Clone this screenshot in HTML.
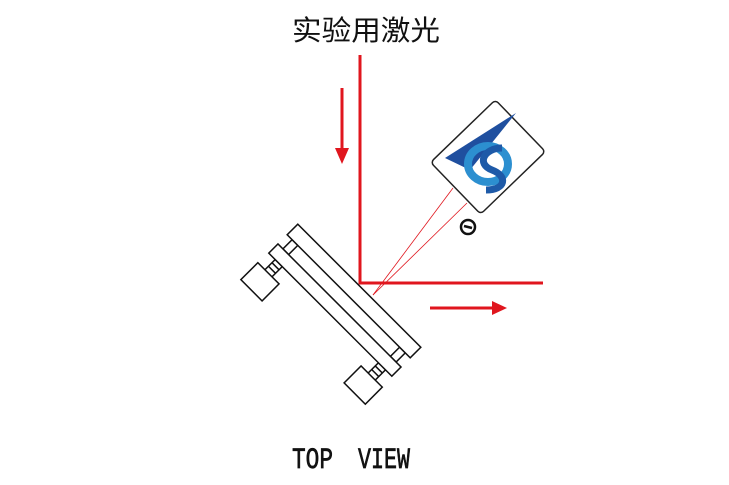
<!DOCTYPE html>
<html><head><meta charset="utf-8"><style>
html,body{margin:0;padding:0;background:#fff;}
svg{display:block;}
</style></head><body>
<svg width="729" height="485" viewBox="0 0 729 485" xmlns="http://www.w3.org/2000/svg">
<text x="292" y="40" font-family="'Liberation Sans','Noto Sans CJK SC',sans-serif" font-size="28" textLength="148" lengthAdjust="spacingAndGlyphs" fill="#111">实验用激光</text>
<text x="292" y="468" font-family="'Liberation Mono',monospace" font-size="30" textLength="41" lengthAdjust="spacingAndGlyphs" fill="#111" stroke="#111" stroke-width="0.7">TOP</text>
<text x="358" y="468" font-family="'Liberation Mono',monospace" font-size="30" textLength="52" lengthAdjust="spacingAndGlyphs" fill="#111" stroke="#111" stroke-width="0.7">VIEW</text>
<!-- red beam -->
<polyline points="360,55 360,283 543,283" fill="none" stroke="#e0161e" stroke-width="3"/>
<line x1="342" y1="88" x2="342" y2="150" stroke="#e0161e" stroke-width="3"/>
<polygon points="335,148 349,148 342,164" fill="#e0161e"/>
<line x1="430" y1="308" x2="494" y2="308" stroke="#e0161e" stroke-width="3"/>
<polygon points="492,301 492,315 507,308" fill="#e0161e"/>
<!-- thin lines -->
<line x1="453" y1="188" x2="373" y2="295" stroke="#e0161e" stroke-width="0.8"/>
<line x1="467" y1="203" x2="373" y2="295" stroke="#e0161e" stroke-width="0.8"/>
<!-- camera -->
<g transform="translate(488,157) rotate(-44)">
<rect x="-45" y="-36" width="90" height="72" rx="4" fill="#fff" stroke="#222" stroke-width="1.5"/>
</g>
<g transform="translate(484,160)">
<polygon points="-39,-2 32,-47 -14,10" fill="#1f4f9f"/>
<ellipse cx="4" cy="4" rx="20" ry="18" fill="none" stroke="#2c8fd0" stroke-width="8"/>
<path d="M18,-12 C0,-12 -8,4 8,10 C24,16 22,30 2,30" fill="none" stroke="#1e5aa8" stroke-width="7"/>
</g>
<circle cx="468" cy="227" r="7" fill="#fff" stroke="#111" stroke-width="2.5"/>
<line x1="464" y1="226" x2="472" y2="228" stroke="#111" stroke-width="2.5"/>
<!-- mirror mount -->
<g transform="translate(354,291) rotate(45)" fill="#fff" stroke="#111" stroke-width="1.5">
<rect x="-80" y="7.5" width="8" height="13"/>
<rect x="72" y="7.5" width="8" height="13"/>
<rect x="-78" y="33.5" width="10" height="15"/>
<rect x="68" y="33.5" width="10" height="15"/>
<line x1="-78" y1="38" x2="-68" y2="38"/><line x1="-78" y1="43" x2="-68" y2="43"/>
<line x1="68" y1="38" x2="78" y2="38"/><line x1="68" y1="43" x2="78" y2="43"/>
<rect x="-87" y="-7.5" width="174" height="15"/>
<rect x="-87" y="20.5" width="174" height="13"/>
<rect x="-88" y="48" width="30" height="24"/>
<rect x="58" y="48" width="30" height="24"/>
</g>
</svg>
</body></html>
